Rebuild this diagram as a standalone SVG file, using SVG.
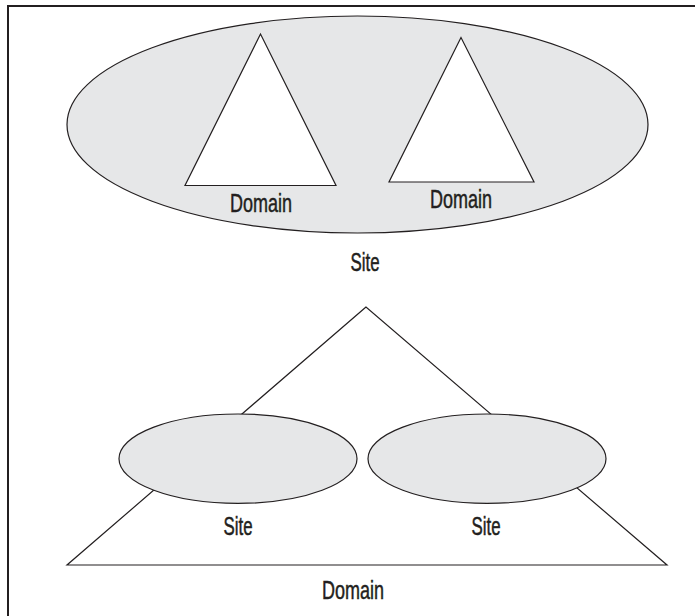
<svg xmlns="http://www.w3.org/2000/svg" width="695" height="616" viewBox="0 0 695 616">
<style>
.sh{stroke:#231f20;stroke-width:1.2;}
.ell{fill:#e6e7e8;}
.tri{fill:#ffffff;}
.lbl{font-family:"Liberation Sans Narrow","Liberation Sans",sans-serif;font-size:26px;fill:#231f20;stroke:#231f20;stroke-width:0.5;text-anchor:middle;}
</style>
<rect width="695" height="616" fill="#ffffff"/>
<g id="frame"><path d="M8,616 V6 H695" fill="none" stroke="#231f20" stroke-width="2"/></g>
<g id="site-top">
<ellipse class="sh ell" cx="357.5" cy="124.5" rx="290.5" ry="108.5"/>
<text class="lbl" x="365" y="271" textLength="29" lengthAdjust="spacingAndGlyphs">Site</text>
</g>
<g id="domain-a">
<polygon class="sh tri" points="260.5,34 185,185.5 336,185.5"/>
<text class="lbl" x="261" y="212" textLength="62" lengthAdjust="spacingAndGlyphs">Domain</text>
</g>
<g id="domain-b">
<polygon class="sh tri" points="461,37.5 389,182 534,182"/>
<text class="lbl" x="461" y="208" textLength="62" lengthAdjust="spacingAndGlyphs">Domain</text>
</g>
<g id="domain-bottom">
<polygon class="sh tri" points="366,307 67,565 667,565"/>
<text class="lbl" x="353" y="599" textLength="62" lengthAdjust="spacingAndGlyphs">Domain</text>
</g>
<g id="site-left">
<ellipse class="sh ell" cx="238" cy="458.7" rx="119" ry="44.7"/>
<text class="lbl" x="238" y="535" textLength="29" lengthAdjust="spacingAndGlyphs">Site</text>
</g>
<g id="site-right">
<ellipse class="sh ell" cx="487" cy="458.7" rx="119" ry="44.7"/>
<text class="lbl" x="486" y="535" textLength="29" lengthAdjust="spacingAndGlyphs">Site</text>
</g>
<g id="connectors"></g>
</svg>
